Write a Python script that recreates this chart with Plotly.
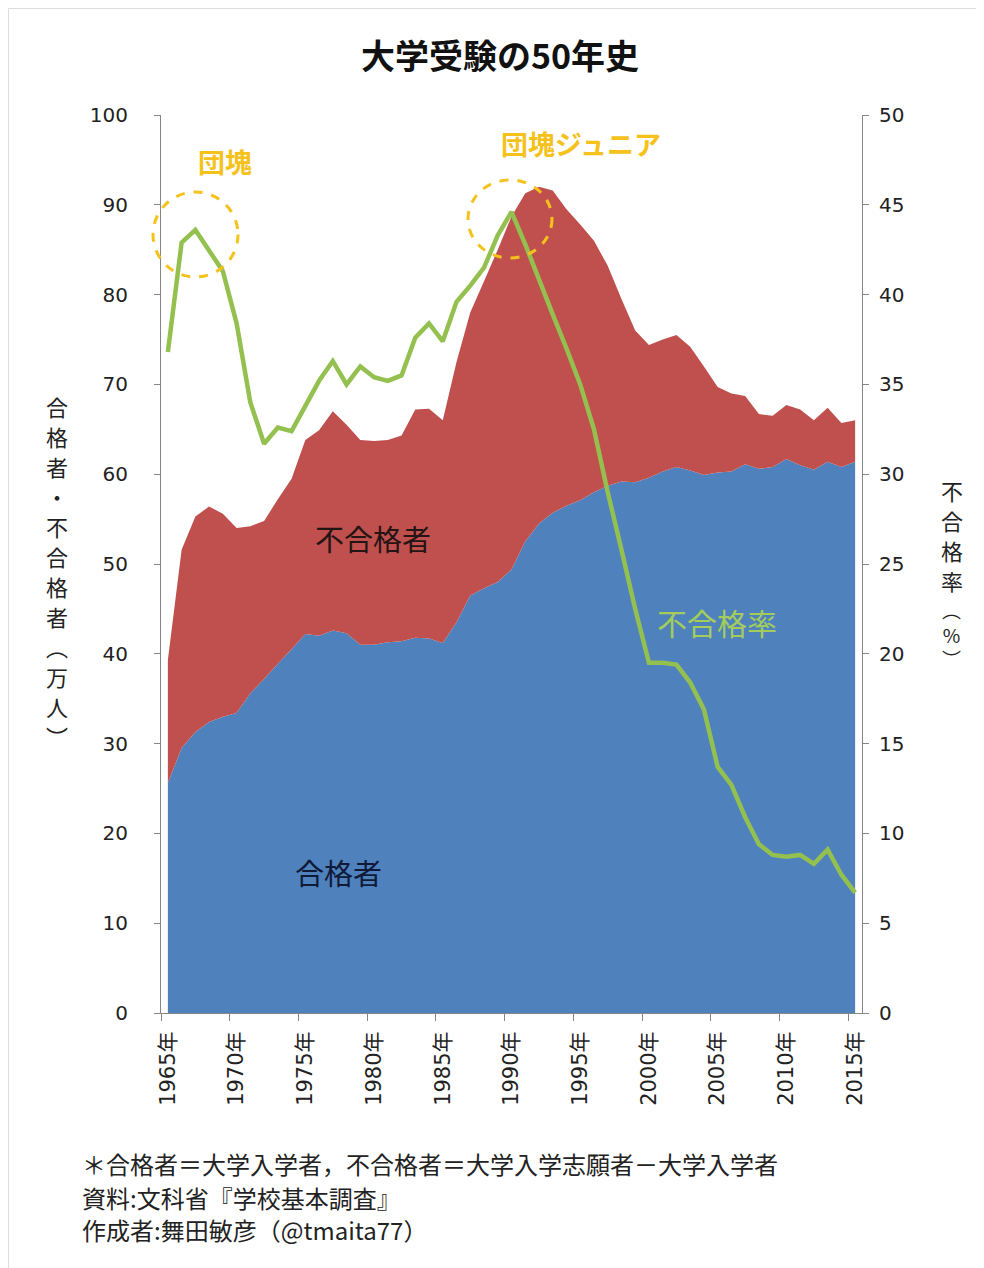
import plotly.graph_objects as go

years = list(range(1965, 2016))

# 合格者 (大学入学者, 万人)
passed = [25.6, 29.5, 31.3, 32.4, 33.0, 33.4, 35.6, 37.2, 38.9, 40.5,
          42.2, 42.0, 42.6, 42.3, 41.0, 41.0, 41.3, 41.4, 41.8, 41.7,
          41.2, 43.5, 46.5, 47.3, 48.0, 49.4, 52.5, 54.5, 55.7, 56.5,
          57.1, 58.0, 58.7, 59.2, 59.1, 59.6, 60.3, 60.8, 60.4, 59.9,
          60.2, 60.3, 61.1, 60.6, 60.8, 61.7, 61.0, 60.5, 61.4, 60.8,
          61.4]

# 大学入学志願者 (万人)
applicants = [39.3, 51.6, 55.3, 56.4, 55.6, 54.0, 54.2, 54.8, 57.2, 59.5,
              63.8, 64.9, 67.0, 65.5, 63.8, 63.7, 63.8, 64.3, 67.2, 67.3,
              66.0, 72.5, 78.0, 81.5, 85.0, 88.7, 91.3, 92.0, 91.6, 89.5,
              87.8, 86.0, 83.2, 79.5, 76.0, 74.4, 75.0, 75.5, 74.2, 72.0,
              69.7, 69.0, 68.7, 66.7, 66.5, 67.7, 67.2, 66.0, 67.4, 65.7,
              66.0]

# 不合格率 (%)
reject_rate = [36.8, 42.9, 43.6, 42.4, 41.3, 38.4, 34.0, 31.7, 32.6, 32.4,
               33.8, 35.2, 36.3, 35.0, 36.0, 35.4, 35.2, 35.5, 37.6, 38.4,
               37.4, 39.6, 40.5, 41.5, 43.3, 44.6, 42.8, 40.8, 38.9, 37.0,
               35.0, 32.5, 29.0, 25.8, 22.5, 19.5, 19.5, 19.4, 18.4, 16.9,
               13.7, 12.7, 10.9, 9.4, 8.8, 8.7, 8.8, 8.3, 9.1, 7.7,
               6.7]

rejected = [round(a - p, 2) for a, p in zip(applicants, passed)]

tick_years = list(range(1965, 2016, 5))
tick_text = [f"{y}年" for y in tick_years]
boundary_ticks = [y - 0.5 for y in tick_years]

left_ticks = list(range(0, 101, 10))
right_ticks = list(range(0, 51, 5))

left_title = list("合格者・不合格者︵万人︶")
right_title = ["不", "合", "格", "率"]
right_title_unit = "︵<br>%<br>︶"

FONT = "Noto Sans CJK JP"
NUMFONT = "DejaVu Sans, Noto Sans CJK JP"
AXIS_COLOR = "#868686"
GOLD = "#F5C21B"
TXT = "#222222"

fig = go.Figure()
fig.add_trace(go.Scatter(x=years, y=passed, stackgroup="one", mode="none",
                         fillcolor="#4F81BD", name="合格者"))
fig.add_trace(go.Scatter(x=years, y=rejected, stackgroup="one", mode="none",
                         fillcolor="#C0504D", name="不合格者"))
fig.add_trace(go.Scatter(x=years, y=reject_rate, yaxis="y2", mode="lines",
                         line=dict(color="#93C04F", width=4.5), name="不合格率"))

# page has an 8px body margin; geometry below is in page pixels
OFF = 8
FIG_W, FIG_H = 984 - OFF, 1268 - OFF
L, R, T, B = 161, 862, 115, 1013
W, H = R - L, B - T


def px(x):
    return (x - L) / W


def py(y):
    return (B - y) / H


annotations = [
    dict(text="不合格者", x=px(373), y=py(538), font=dict(size=29, color="#241414")),
    dict(text="合格者", x=px(338), y=py(872), font=dict(size=29, color="#0E1A38")),
    dict(text="不合格率", x=px(717), y=py(622), font=dict(size=30, color="#A3CC5C")),
    dict(text="<b>団塊</b>", x=px(225), y=py(162), font=dict(size=27, color=GOLD)),
    dict(text="<b>団塊ジュニア</b>", x=px(581), y=py(143), font=dict(size=27, color=GOLD)),
    dict(text="＊合格者＝大学入学者，不合格者＝大学入学志願者－大学入学者",
         x=px(80), y=py(1163), xanchor="left", font=dict(size=24, color=TXT)),
    dict(text="資料:文科省『学校基本調査』",
         x=px(80), y=py(1197), xanchor="left", font=dict(size=24, color=TXT)),
    dict(text="作成者:舞田敏彦（@tmaita77）",
         x=px(80), y=py(1229), xanchor="left", font=dict(size=24, color=TXT)),
    dict(text=right_title_unit, x=px(952), y=py(634), font=dict(size=19, color=TXT)),
]
for i, ch in enumerate(left_title):
    annotations.append(dict(text=ch, x=px(57), y=py(406 + i * 30),
                            font=dict(size=22, color=TXT)))
right_pos = [490, 520, 550, 580]
for ch, yy in zip(right_title, right_pos):
    annotations.append(dict(text=ch, x=px(952), y=py(yy),
                            font=dict(size=22, color=TXT)))

for a in annotations:
    a.update(xref="paper", yref="paper", showarrow=False)
    a.setdefault("xanchor", "center")
    a.setdefault("yanchor", "middle")

shapes = [
    dict(type="circle", xref="paper", yref="paper",
         x0=px(153), x1=px(238), y0=py(277), y1=py(192),
         line=dict(color=GOLD, width=3, dash="dash")),
    dict(type="circle", xref="paper", yref="paper",
         x0=px(468), x1=px(552), y0=py(258), y1=py(180),
         line=dict(color=GOLD, width=3, dash="dash")),
    dict(type="rect", xref="paper", yref="paper",
         x0=px(8.5), x1=px(1000), y0=py(1300), y1=py(8.5),
         line=dict(color="#DDDDDD", width=1)),
]

fig.update_layout(
    width=FIG_W, height=FIG_H,
    margin=dict(l=L - OFF, r=FIG_W - (R - OFF), t=T - OFF, b=FIG_H - (B - OFF)),
    paper_bgcolor="white", plot_bgcolor="white",
    showlegend=False,
    font=dict(family=FONT, color=TXT),
    title=dict(text="<b>大学受験の50年史</b>", x=(500 - OFF) / FIG_W, xanchor="center",
               y=1 - (57 - OFF) / FIG_H, yanchor="middle", yref="container",
               font=dict(size=34, color="#111111", family=FONT)),
    xaxis=dict(range=[1964.5, 2015.5], tickmode="array", tickvals=tick_years,
               ticktext=tick_text, tickangle=-90, ticks="", showgrid=False,
               zeroline=False, showline=True, linecolor=AXIS_COLOR, linewidth=1,
               tickfont=dict(size=21, color=TXT, family=NUMFONT), ticklabelstandoff=9,
               minor=dict(tickmode="array", tickvals=boundary_ticks, ticks="outside",
                          ticklen=7, tickcolor=AXIS_COLOR, showgrid=False)),
    yaxis=dict(range=[0, 100], tickmode="array", tickvals=left_ticks,
               ticks="outside", ticklen=6, tickcolor=AXIS_COLOR, showgrid=False,
               zeroline=False, showline=True, linecolor=AXIS_COLOR, linewidth=1,
               tickfont=dict(size=20, color=TXT, family=NUMFONT), ticklabelstandoff=22),
    yaxis2=dict(range=[0, 50], tickmode="array", tickvals=right_ticks,
                overlaying="y", side="right",
                ticks="outside", ticklen=6, tickcolor=AXIS_COLOR, showgrid=False,
                zeroline=False, showline=True, linecolor=AXIS_COLOR, linewidth=1,
                tickfont=dict(size=20, color=TXT, family=NUMFONT), ticklabelstandoff=6),
    annotations=annotations,
    shapes=shapes,
)

fig.write_html("out.html")
